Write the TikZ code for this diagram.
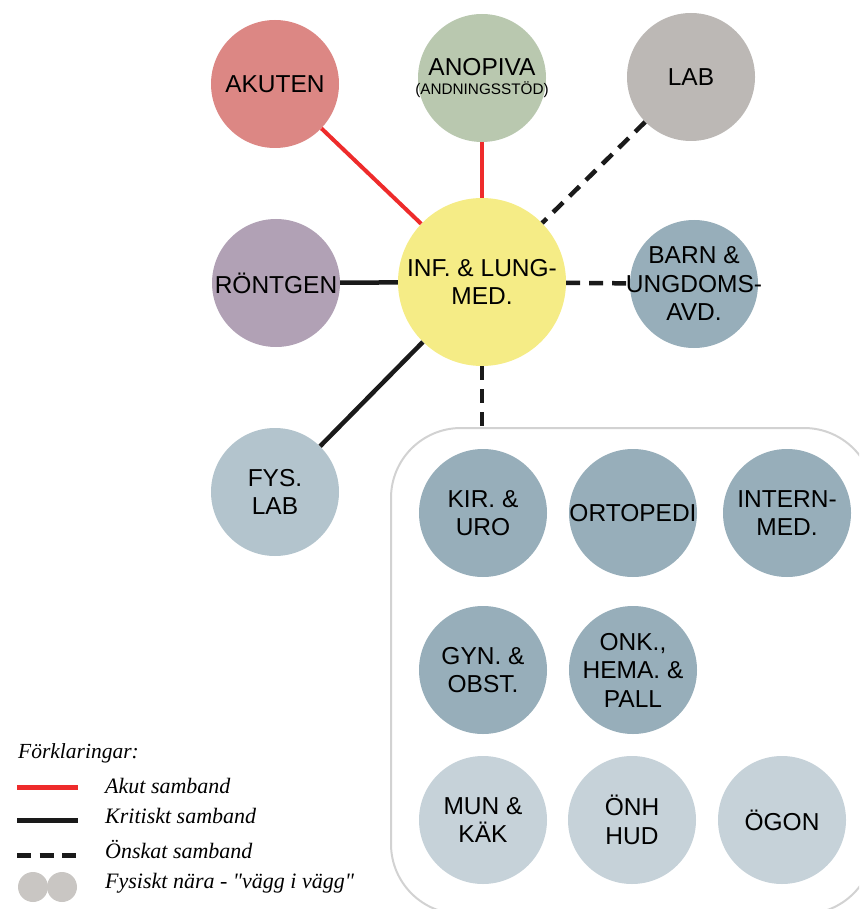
\documentclass[tikz,border=0pt]{standalone}
\usepackage{fontspec}
\setmainfont{Liberation Sans}
\newfontfamily\legendfont{Liberation Serif}

\definecolor{cAkut}{HTML}{DC8784}
\definecolor{cAnop}{HTML}{B9C8AF}
\definecolor{cLab}{HTML}{BCB8B5}
\definecolor{cRont}{HTML}{B1A1B5}
\definecolor{cInf}{HTML}{F5EC86}
\definecolor{cDark}{HTML}{97AEBA}
\definecolor{cFys}{HTML}{B3C4CD}
\definecolor{cLight}{HTML}{C6D2D9}
\definecolor{cNear}{HTML}{C9C6C3}
\definecolor{cBox}{HTML}{D2D2D2}
\definecolor{cRed}{HTML}{EE2B2B}
\definecolor{cBlack}{HTML}{1A1A1A}

\begin{document}
\begin{tikzpicture}[x=1pt,y=-1pt,
  unit/.style={circle, minimum size=128pt, inner sep=-40pt, align=center,
    font=\fontsize{24.5}{28.5}\selectfont},
  acute/.style={draw=cRed, line width=4pt},
  critical/.style={draw=cBlack, line width=4.5pt},
  wish/.style={draw=cBlack, line width=4.5pt, dash pattern=on 14pt off 9pt},
  legendtext/.style={anchor=base west, inner sep=0pt,
    font=\legendfont\itshape\fontsize{22}{25}\selectfont},
]
\useasboundingbox (0,0) rectangle (859,909);
\clip (0,0) rectangle (859,909);

% group of wards that lie wall to wall
\node[draw=cBox, line width=2pt, rounded corners=70pt, minimum width=483pt,
  minimum height=486pt, anchor=north west, inner sep=0pt] (group) at (390,427) {};

% centre
\node[unit, fill=cInf, minimum size=168pt] (inf) at (482,282) {INF. \& LUNG-\\MED.};

% surrounding units
\node[unit, fill=cAkut] (akuten) at (275,84) {AKUTEN};
\node[unit, fill=cAnop] (anopiva) at (482,78)
  {ANOPIVA\\[-9pt]{\fontsize{15.3}{17}\selectfont(ANDNINGSSTÖD)}};
\node[unit, fill=cLab] (lab) at (691,77) {LAB};
\node[unit, fill=cRont] (rontgen) at (276,283) {RÖNTGEN};
\node[unit, fill=cDark] (barn) at (694,284) {BARN \&\\UNGDOMS-\\AVD.};
\node[unit, fill=cFys] (fys) at (275,492) {FYS.\\LAB};

% units inside the group
\node[unit, fill=cDark] (kir) at (483,513) {KIR. \&\\URO};
\node[unit, fill=cDark] (orto) at (633,513) {ORTOPEDI};
\node[unit, fill=cDark] (intern) at (787,513) {INTERN-\\MED.};
\node[unit, fill=cDark] (gyn) at (483,670) {GYN. \&\\OBST.};
\node[unit, fill=cDark] (onk) at (633,670) {ONK.,\\HEMA. \&\\PALL};
\node[unit, fill=cLight] (mun) at (483,820) {MUN \&\\KÄK};
\node[unit, fill=cLight] (onh) at (632,820) {ÖNH\\HUD};
\node[unit, fill=cLight] (ogon) at (782,820) {ÖGON};

% connections
\draw[acute] (akuten) -- (inf);
\draw[acute] (anopiva) -- (inf);
\draw[wish] (lab) -- (inf);
\draw[critical] (rontgen) -- (inf);
\draw[wish] (inf) -- (barn);
\draw[critical] (fys) -- (inf);
\draw[wish] (inf) -- (inf |- group.north);

% legend
\node[legendtext, font=\legendfont\itshape\fontsize{21.5}{25}\selectfont]
  (legtitle) at (18,758) {Förklaringar:};
\coordinate (ra) at (17,787); \coordinate (rb) at (78,787);
\draw[acute, line width=5pt] (ra) -- (rb);
\node[legendtext] (legacute) at (105,793) {Akut samband};
\coordinate (ka) at (17,820); \coordinate (kb) at (78,820);
\draw[critical, line width=5pt] (ka) -- (kb);
\node[legendtext] (legcrit) at (105,823) {Kritiskt samband};
\coordinate (oa) at (17,855); \coordinate (ob) at (78,855);
\draw[wish, line width=5pt, dash pattern=on 14pt off 8.5pt] (oa) -- (ob);
\node[legendtext] (legwish) at (105,858) {Önskat samband};
\node[circle, fill=cNear, minimum size=30pt, inner sep=0pt] (near1) at (33,887) {};
\node[circle, fill=cNear, minimum size=30pt, inner sep=0pt] (near2) at (62,887) {};
\node[legendtext] (legnear) at (105,888) {Fysiskt nära - "vägg i vägg"};
\end{tikzpicture}
\end{document}
